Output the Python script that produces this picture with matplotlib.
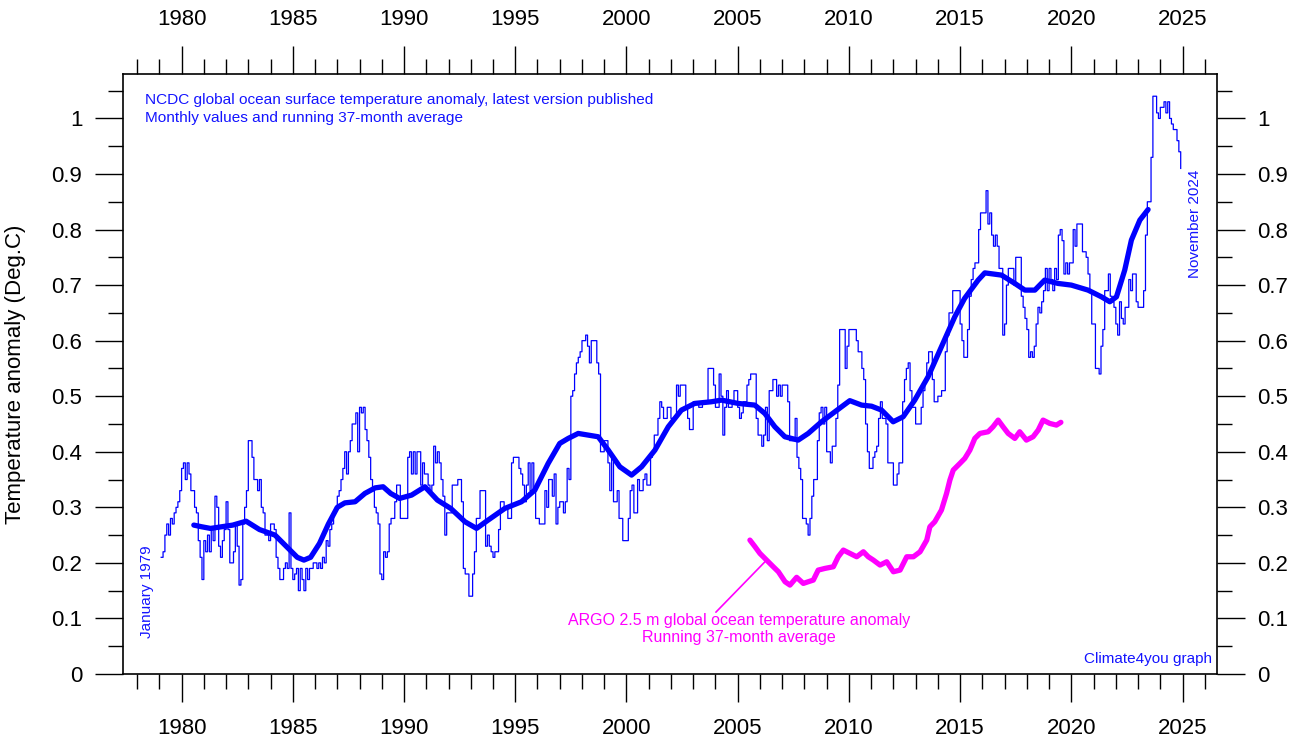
import numpy as np
import matplotlib
matplotlib.use("Agg")
import matplotlib.pyplot as plt
from matplotlib.ticker import MultipleLocator, FuncFormatter

plt.rcParams['font.family'] = ['Liberation Sans', 'DejaVu Sans']

# NCDC monthly ocean surface anomaly, Jan 1979 .. Nov 2024 (one row per year)
START_YEAR = 1979
monthly_anom = [
    0.21, 0.22, 0.25, 0.27, 0.25, 0.28, 0.27, 0.29, 0.30, 0.31, 0.33, 0.37,  # 1979
    0.38, 0.35, 0.38, 0.36, 0.33, 0.33, 0.30, 0.29, 0.24, 0.21, 0.17, 0.24,  # 1980
    0.22, 0.25, 0.22, 0.26, 0.24, 0.32, 0.30, 0.23, 0.21, 0.24, 0.26, 0.31,  # 1981
    0.26, 0.20, 0.20, 0.22, 0.27, 0.23, 0.16, 0.17, 0.27, 0.30, 0.33, 0.42,  # 1982
    0.42, 0.39, 0.35, 0.35, 0.33, 0.35, 0.30, 0.29, 0.25, 0.25, 0.24, 0.27,  # 1983
    0.27, 0.26, 0.21, 0.19, 0.17, 0.17, 0.19, 0.20, 0.19, 0.29, 0.19, 0.17,  # 1984
    0.18, 0.19, 0.15, 0.19, 0.17, 0.15, 0.19, 0.17, 0.19, 0.19, 0.20, 0.20,  # 1985
    0.19, 0.20, 0.19, 0.21, 0.20, 0.24, 0.23, 0.26, 0.27, 0.29, 0.30, 0.32,  # 1986
    0.33, 0.35, 0.37, 0.40, 0.36, 0.40, 0.42, 0.45, 0.45, 0.47, 0.40, 0.48,  # 1987
    0.47, 0.48, 0.44, 0.42, 0.39, 0.35, 0.33, 0.30, 0.29, 0.27, 0.18, 0.17,  # 1988
    0.22, 0.21, 0.22, 0.27, 0.28, 0.28, 0.31, 0.34, 0.34, 0.28, 0.28, 0.28,  # 1989
    0.28, 0.39, 0.40, 0.36, 0.40, 0.36, 0.40, 0.40, 0.34, 0.38, 0.36, 0.36,  # 1990
    0.34, 0.33, 0.34, 0.41, 0.38, 0.40, 0.38, 0.35, 0.32, 0.25, 0.29, 0.29,  # 1991
    0.29, 0.34, 0.34, 0.34, 0.35, 0.35, 0.31, 0.19, 0.18, 0.18, 0.14, 0.14,  # 1992
    0.18, 0.22, 0.28, 0.28, 0.33, 0.33, 0.33, 0.23, 0.25, 0.23, 0.22, 0.21,  # 1993
    0.22, 0.22, 0.26, 0.31, 0.31, 0.30, 0.30, 0.28, 0.28, 0.38, 0.39, 0.39,  # 1994
    0.39, 0.37, 0.36, 0.34, 0.31, 0.34, 0.38, 0.33, 0.38, 0.33, 0.28, 0.28,  # 1995
    0.27, 0.27, 0.27, 0.33, 0.30, 0.35, 0.35, 0.32, 0.36, 0.27, 0.30, 0.31,  # 1996
    0.31, 0.29, 0.31, 0.37, 0.35, 0.50, 0.51, 0.54, 0.56, 0.57, 0.58, 0.60,  # 1997
    0.60, 0.61, 0.59, 0.56, 0.60, 0.60, 0.60, 0.56, 0.54, 0.40, 0.40, 0.42,  # 1998
    0.42, 0.38, 0.33, 0.39, 0.31, 0.31, 0.33, 0.28, 0.28, 0.24, 0.24, 0.24,  # 1999
    0.28, 0.33, 0.34, 0.29, 0.29, 0.35, 0.33, 0.33, 0.35, 0.36, 0.34, 0.34,  # 2000
    0.39, 0.40, 0.43, 0.43, 0.46, 0.49, 0.48, 0.46, 0.46, 0.48, 0.48, 0.46,  # 2001
    0.46, 0.46, 0.52, 0.50, 0.52, 0.52, 0.52, 0.48, 0.46, 0.44, 0.44, 0.49,  # 2002
    0.49, 0.49, 0.48, 0.48, 0.49, 0.49, 0.49, 0.55, 0.55, 0.55, 0.52, 0.48,  # 2003
    0.48, 0.54, 0.50, 0.43, 0.48, 0.51, 0.48, 0.48, 0.49, 0.51, 0.51, 0.48,  # 2004
    0.46, 0.47, 0.49, 0.49, 0.52, 0.53, 0.54, 0.54, 0.54, 0.46, 0.43, 0.43,  # 2005
    0.41, 0.43, 0.48, 0.42, 0.51, 0.51, 0.53, 0.53, 0.50, 0.52, 0.50, 0.52,  # 2006
    0.52, 0.52, 0.49, 0.42, 0.42, 0.42, 0.46, 0.39, 0.37, 0.35, 0.28, 0.28,  # 2007
    0.27, 0.25, 0.28, 0.32, 0.35, 0.35, 0.42, 0.47, 0.48, 0.45, 0.48, 0.40,  # 2008
    0.40, 0.38, 0.41, 0.41, 0.46, 0.52, 0.62, 0.62, 0.62, 0.55, 0.59, 0.62,  # 2009
    0.62, 0.62, 0.62, 0.60, 0.58, 0.58, 0.55, 0.53, 0.45, 0.40, 0.37, 0.37,  # 2010
    0.39, 0.40, 0.41, 0.46, 0.49, 0.46, 0.46, 0.45, 0.38, 0.38, 0.38, 0.34,  # 2011
    0.34, 0.36, 0.38, 0.38, 0.49, 0.53, 0.55, 0.56, 0.51, 0.48, 0.48, 0.45,  # 2012
    0.45, 0.45, 0.48, 0.51, 0.53, 0.56, 0.58, 0.58, 0.53, 0.49, 0.49, 0.50,  # 2013
    0.50, 0.51, 0.51, 0.58, 0.61, 0.65, 0.65, 0.69, 0.69, 0.69, 0.69, 0.63,  # 2014
    0.60, 0.57, 0.57, 0.62, 0.68, 0.71, 0.73, 0.74, 0.74, 0.80, 0.83, 0.83,  # 2015
    0.83, 0.87, 0.81, 0.83, 0.79, 0.77, 0.79, 0.77, 0.73, 0.73, 0.61, 0.63,  # 2016
    0.70, 0.73, 0.73, 0.73, 0.70, 0.75, 0.75, 0.75, 0.68, 0.66, 0.64, 0.62,  # 2017
    0.57, 0.58, 0.57, 0.59, 0.63, 0.66, 0.65, 0.67, 0.69, 0.73, 0.69, 0.73,  # 2018
    0.71, 0.69, 0.73, 0.71, 0.79, 0.80, 0.78, 0.72, 0.74, 0.72, 0.74, 0.74,  # 2019
    0.80, 0.77, 0.81, 0.81, 0.81, 0.76, 0.76, 0.75, 0.72, 0.69, 0.63, 0.63,  # 2020
    0.55, 0.55, 0.54, 0.59, 0.62, 0.69, 0.69, 0.72, 0.68, 0.67, 0.66, 0.63,  # 2021
    0.61, 0.67, 0.64, 0.63, 0.66, 0.66, 0.71, 0.69, 0.72, 0.72, 0.67, 0.66,  # 2022
    0.66, 0.66, 0.69, 0.79, 0.85, 0.85, 0.93, 1.04, 1.04, 1.01, 1.00, 1.02,  # 2023
    1.02, 1.03, 1.01, 1.03, 1.00, 0.99, 0.98, 0.98, 0.96, 0.94, 0.91,        # 2024
]

# running 37-month average
run_years = [1980.55, 1980.9, 1981.3, 1981.8, 1982.3, 1982.9, 1983.5, 1984.2, 1984.7,
             1985.2, 1985.5, 1985.8, 1986.2, 1986.6, 1987.0, 1987.34, 1987.8, 1988.24,
             1988.7, 1989.06, 1989.4, 1989.8, 1990.34, 1990.94, 1991.5, 1992.1, 1992.74,
             1993.26, 1993.78, 1994.53, 1995.28, 1995.88, 1996.48, 1997.0, 1997.38,
             1997.83, 1998.28, 1998.73, 1999.18, 1999.7, 2000.23, 2000.68, 2001.28,
             2001.88, 2002.47, 2003.07, 2003.82, 2004.27, 2005.02, 2005.77, 2006.22,
             2006.67, 2007.12, 2007.72, 2008.17, 2008.77, 2009.37, 2010.04, 2010.57,
             2011.02, 2011.47, 2011.99, 2012.44, 2012.96, 2013.56, 2014.16, 2014.76,
             2015.2, 2015.81, 2016.11, 2016.86, 2017.46, 2017.91, 2018.36, 2018.8,
             2019.4, 2020.0, 2020.75, 2021.35, 2021.73, 2022.03, 2022.4, 2022.7,
             2023.08, 2023.45]
run_vals = [0.268, 0.265, 0.262, 0.265, 0.268, 0.275, 0.260, 0.250, 0.230,
            0.210, 0.205, 0.210, 0.235, 0.270, 0.300, 0.308, 0.310, 0.325,
            0.335, 0.337, 0.325, 0.316, 0.322, 0.337, 0.313, 0.298, 0.274,
            0.262, 0.277, 0.298, 0.310, 0.331, 0.379, 0.415, 0.424,
            0.433, 0.430, 0.427, 0.403, 0.373, 0.358, 0.373, 0.403,
            0.445, 0.475, 0.487, 0.490, 0.493, 0.487, 0.484, 0.469,
            0.445, 0.427, 0.421, 0.433, 0.454, 0.472, 0.492, 0.484,
            0.482, 0.475, 0.454, 0.463, 0.493, 0.535, 0.589, 0.643,
            0.676, 0.709, 0.722, 0.718, 0.703, 0.691, 0.691, 0.709,
            0.703, 0.700, 0.691, 0.679, 0.670, 0.679, 0.727, 0.781,
            0.817, 0.836]

# ARGO 2.5 m running 37-month average
argo_years = [2005.55, 2005.78, 2006.0, 2006.3, 2006.6, 2006.83, 2007.13, 2007.35, 2007.65,
              2007.95, 2008.17, 2008.4, 2008.62, 2008.92, 2009.3, 2009.52, 2009.75, 2010.05,
              2010.35, 2010.65, 2010.87, 2011.1, 2011.4, 2011.7, 2012.0, 2012.3, 2012.6,
              2012.9, 2013.2, 2013.5, 2013.64, 2013.86, 2014.16, 2014.39, 2014.54, 2014.69,
              2014.99, 2015.21, 2015.44, 2015.66, 2015.89, 2016.26, 2016.48, 2016.71,
              2016.93, 2017.16, 2017.46, 2017.68, 2017.98, 2018.28, 2018.51, 2018.73,
              2019.03, 2019.33, 2019.53]
argo_vals = [0.241, 0.229, 0.217, 0.205, 0.193, 0.184, 0.166, 0.160, 0.174,
             0.163, 0.166, 0.169, 0.187, 0.190, 0.193, 0.211, 0.223, 0.217,
             0.211, 0.220, 0.211, 0.205, 0.196, 0.202, 0.184, 0.187, 0.211,
             0.211, 0.220, 0.241, 0.265, 0.274, 0.295, 0.325, 0.349, 0.367,
             0.379, 0.388, 0.403, 0.424, 0.433, 0.436, 0.445, 0.457,
             0.445, 0.433, 0.424, 0.436, 0.421, 0.427, 0.439, 0.457,
             0.451, 0.448, 0.453]

months = START_YEAR + (np.arange(len(monthly_anom)) + 1) / 12.0

fig = plt.figure(figsize=(13.02, 7.43), dpi=100)
ax = fig.add_axes([0.0942, 0.0929, 0.8402, 0.8075])

ax.step(months, monthly_anom, where='post', color='#0000ff', lw=0.9)
ax.plot(run_years, run_vals, color='#0000ff', lw=3.8, solid_capstyle='round',
        solid_joinstyle='round')
ax.plot(argo_years, argo_vals, color='#ff00ff', lw=3.8, solid_capstyle='round',
        solid_joinstyle='round')

ax.set_xlim(1977.35, 2026.53)
ax.set_ylim(0, 1.08)
ax.xaxis.set_major_locator(MultipleLocator(5))
ax.xaxis.set_minor_locator(MultipleLocator(1))
ax.yaxis.set_major_locator(MultipleLocator(0.1))
ax.yaxis.set_minor_locator(MultipleLocator(0.05))
ax.yaxis.set_major_formatter(FuncFormatter(lambda v, p: ('%.1f' % v).rstrip('0').rstrip('.')))

ax.tick_params(which='both', direction='out', width=1, colors='black',
               top=True, right=True, labeltop=True, labelright=True, labelsize=16)
ax.tick_params(which='major', length=20)
ax.tick_params(which='minor', length=11)
ax.tick_params(axis='x', which='major', pad=12)
ax.tick_params(axis='y', which='major', pad=9)
for s in ax.spines.values():
    s.set_linewidth(1.2)

ax.set_ylabel('Temperature anomaly (Deg.C)', fontsize=16)
ax.yaxis.set_label_coords(-0.088, 0.5)

blue = '#1414ff'
ax.text(0.0204, 0.957, 'NCDC global ocean surface temperature anomaly, latest version published',
        transform=ax.transAxes, color=blue, fontsize=11.1, ha='left', va='center')
ax.text(0.0204, 0.927, 'Monthly values and running 37-month average',
        transform=ax.transAxes, color=blue, fontsize=11.1, ha='left', va='center')
ax.text(0.9957, 0.025, 'Climate4you graph', transform=ax.transAxes, color=blue,
        fontsize=11, ha='right', va='center')
ax.text(0.0227, 0.1375, 'January 1979', transform=ax.transAxes, color=blue,
        fontsize=11, rotation=90, ha='center', va='center')
ax.text(0.9806, 0.7508, 'November 2024', transform=ax.transAxes, color=blue,
        fontsize=11, rotation=90, ha='center', va='center')

pink = '#ff00ff'
ax.text(0.5633, 0.0883, 'ARGO 2.5 m global ocean temperature anomaly',
        transform=ax.transAxes, color=pink, fontsize=11.5, ha='center', va='center')
ax.text(0.5633, 0.060, 'Running 37-month average',
        transform=ax.transAxes, color=pink, fontsize=11.5, ha='center', va='center')
ax.annotate('', xy=(argo_years[3], argo_vals[3]), xytext=(0.5423, 0.103),
            textcoords='axes fraction',
            arrowprops=dict(arrowstyle='-', color=pink, lw=1.2, shrinkA=0, shrinkB=0))

fig.savefig('out.png', dpi=100)
